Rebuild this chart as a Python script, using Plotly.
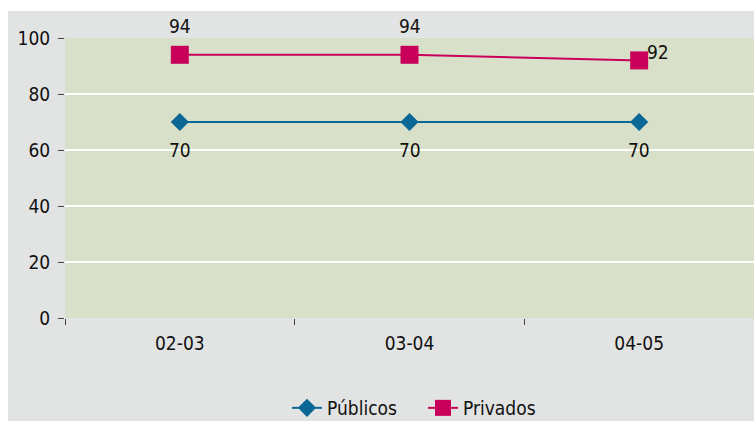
import plotly.graph_objects as go

categories = ["02-03", "03-04", "04-05"]
publicos = [70, 70, 70]
privados = [94, 94, 92]
y_ticks = [0, 20, 40, 60, 80, 100]

BLUE = "#0b6796"
MAGENTA = "#c8005a"
GRAY = "#e2e3e3"
FONT = "DejaVu Sans Condensed"
FS = 19

fig = go.Figure()
fig.add_trace(go.Scatter(
    x=categories, y=publicos, name="Públicos", mode="lines+markers",
    line=dict(color=BLUE, width=2),
    marker=dict(symbol="diamond", size=14, color=BLUE),
))
fig.add_trace(go.Scatter(
    x=categories, y=privados, name="Privados", mode="lines+markers",
    line=dict(color=MAGENTA, width=2),
    marker=dict(symbol="square", size=18, color=MAGENTA),
))

for c, v in zip(categories, publicos):
    fig.add_annotation(x=c, y=v, text=str(v), showarrow=False, yshift=-28,
                       font=dict(family=FONT, size=FS, color="#111"))
for i, (c, v) in enumerate(zip(categories, privados)):
    if i < len(categories) - 1:
        fig.add_annotation(x=c, y=v, text=str(v), showarrow=False, yshift=29,
                           font=dict(family=FONT, size=FS, color="#111"))
    else:
        fig.add_annotation(x=c, y=v, text=str(v), showarrow=False, yshift=8,
                           xshift=19, font=dict(family=FONT, size=FS, color="#111"))

# white strips on top and left of the gray panel
fig.add_shape(type="rect", xref="paper", yref="paper",
              x0=-0.2, x1=1.05, y0=(318 - 11) / 280, y1=1.3,
              fillcolor="white", line=dict(width=0), layer="below")
fig.add_shape(type="rect", xref="paper", yref="paper",
              x0=-0.2, x1=-57 / 689, y0=-0.5, y1=1.3,
              fillcolor="white", line=dict(width=0), layer="below")

fig.update_layout(
    width=754, height=421,
    margin=dict(l=65, r=0, t=38, b=103, autoexpand=False),
    paper_bgcolor=GRAY,
    plot_bgcolor="#d9e0c9",
    font=dict(family=FONT, size=FS, color="#111"),
    showlegend=True,
    legend=dict(orientation="h", x=(287 - 65) / 689, xanchor="left",
                yref="container", y=(421 - 408) / 421,
                yanchor="middle", font=dict(family=FONT, size=FS),
                bgcolor="rgba(0,0,0,0)", itemwidth=30,
                entrywidth=91, entrywidthmode="pixels"),
    xaxis=dict(type="category", range=[-0.5, 2.5], showgrid=False,
               ticks="outside", tickson="boundaries", ticklen=6,
               tickcolor="#444", showline=False, zeroline=False,
               ticklabelstandoff=12, automargin=False,
               tickfont=dict(family=FONT, size=FS)),
    yaxis=dict(range=[0, 100], tickvals=y_ticks, showgrid=True,
               gridcolor="white", gridwidth=1.5, ticks="outside", ticklen=6,
               tickcolor="#444", showline=False, zeroline=False,
               ticklabelstandoff=4, automargin=False,
               tickfont=dict(family=FONT, size=FS)),
)

fig.write_html("out.html")
